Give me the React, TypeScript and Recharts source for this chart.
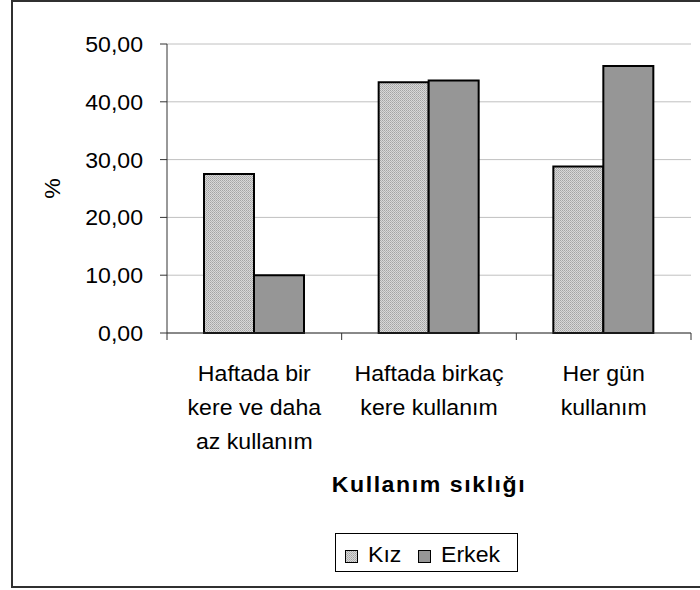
import { BarChart, Bar, XAxis, YAxis, CartesianGrid, Legend, Label } from "recharts"

const categories = [
  "Haftada bir\nkere ve daha\naz kullanım",
  "Haftada birkaç\nkere kullanım",
  "Her gün\nkullanım",
]
const kiz = [27.5, 43.4, 28.8]
const erkek = [10.0, 43.7, 46.2]
const yTicks = [0, 10, 20, 30, 40, 50]
const seriesNames = ["Kız", "Erkek"]
const xTitle = "Kullanım sıklığı"
const yTitle = "%"

const data = categories.map((name, i) => ({ name, kiz: kiz[i], erkek: erkek[i] }))

const FONT = '"Liberation Sans", Arial, sans-serif'
const SX = 1.05
const AXIS = "#333"

function StretchText({ x, y, anchor = "middle", rotate = 0, bold = false, spacing = 0, children }: any) {
  return (
    <text
      transform={`translate(${x},${y}) rotate(${rotate}) scale(${SX},1)`}
      textAnchor={anchor}
      fontFamily={FONT}
      fontSize={22}
      fontWeight={bold ? "bold" : "normal"}
      letterSpacing={spacing}
      fill="#000"
    >
      {children}
    </text>
  )
}

function ValueTick({ x, y, payload }: any) {
  return (
    <StretchText x={x} y={y + 8} anchor="end">
      {Number(payload.value).toFixed(2).replace(".", ",")}
    </StretchText>
  )
}

function CategoryTick({ x, y, payload, index, width, visibleTicksCount }: any) {
  const half = width / visibleTicksCount / 2
  const lines = String(payload.value).split("\n")
  return (
    <g>
      <line x1={x - half} x2={x - half} y1={y} y2={y + 7} stroke={AXIS} />
      {index === visibleTicksCount - 1 && (
        <line x1={x + half} x2={x + half} y1={y} y2={y + 7} stroke={AXIS} />
      )}
      {lines.map((line, i) => (
        <StretchText key={i} x={x} y={y + 48 + i * 34}>
          {line}
        </StretchText>
      ))}
    </g>
  )
}

function LegendBox({ payload }: any) {
  const offsets = [10, 83]
  const items = [...(payload || [])].sort(
    (a: any, b: any) => seriesNames.indexOf(a.value) - seriesNames.indexOf(b.value)
  )
  return (
    <svg width={183} height={39} style={{ display: "block" }}>
      <rect x={0.5} y={0.5} width={182} height={38} fill="#fff" stroke="#000" />
      {items.map((entry: any, i: number) => (
        <g key={entry.value}>
          <rect
            x={offsets[i] + 0.5}
            y={17.5}
            width={12}
            height={12}
            fill={entry.color}
            stroke="#000"
          />
          <StretchText x={offsets[i] + 23} y={29} anchor="start">
            {entry.value}
          </StretchText>
        </g>
      ))}
    </svg>
  )
}

export default function App() {
  return (
    <div style={{ position: "absolute", left: 0, top: 0, width: 700, height: 590, background: "#fff" }}>
      <div
        style={{
          position: "absolute",
          left: 11,
          top: 0,
          width: 689,
          height: 588,
          borderTop: "2px solid #303030",
          borderLeft: "2px solid #303030",
          borderBottom: "2px solid #303030",
          boxSizing: "border-box",
        }}
      />
      <BarChart
        width={700}
        height={590}
        data={data}
        margin={{ top: 44, right: 9, left: 0, bottom: 0 }}
        barGap={0}
      >
        <defs>
          <pattern id="kizFill" width="2" height="2" patternUnits="userSpaceOnUse">
            <rect width="2" height="2" fill="#d8d8d8" />
            <rect x="0" y="0" width="1" height="1" fill="#a4a4a4" />
            <rect x="1" y="1" width="1" height="1" fill="#b4b4b4" />
          </pattern>
        </defs>
        <CartesianGrid vertical={false} stroke="#c0c0c0" />
        <XAxis
          dataKey="name"
          height={257}
          interval={0}
          tickSize={0}
          tickMargin={0}
          tickLine={false}
          axisLine={{ stroke: AXIS }}
          tick={<CategoryTick />}
        >
          <Label
            content={({ viewBox }: any) => (
              <StretchText x={viewBox.x + viewBox.width / 2} y={viewBox.y + 159} bold spacing={1.5}>
                {xTitle}
              </StretchText>
            )}
          />
        </XAxis>
        <YAxis
          width={167}
          domain={[0, 50]}
          ticks={yTicks}
          tickSize={7}
          tickMargin={17}
          axisLine={{ stroke: AXIS }}
          tickLine={{ stroke: AXIS }}
          tick={<ValueTick />}
        >
          <Label
            content={({ viewBox }: any) => (
              <StretchText x={viewBox.x + 60} y={viewBox.y + viewBox.height / 2} rotate={-90}>
                {yTitle}
              </StretchText>
            )}
          />
        </YAxis>
        <YAxis
          yAxisId="frame"
          orientation="right"
          width={0}
          domain={[0, 50]}
          tick={false}
          tickLine={false}
          axisLine={{ stroke: "#c0c0c0" }}
        />
        <Bar
          dataKey="kiz"
          name={seriesNames[0]}
          fill="url(#kizFill)"
          stroke="#000"
          strokeWidth={2}
          barSize={50}
          isAnimationActive={false}
        />
        <Bar
          dataKey="erkek"
          name={seriesNames[1]}
          fill="#969696"
          stroke="#000"
          strokeWidth={2}
          barSize={50}
          isAnimationActive={false}
        />
        <Legend
          layout="horizontal"
          verticalAlign="middle"
          align="center"
          width={183}
          height={39}
          wrapperStyle={{ left: 335, top: 533, width: 183, height: 39 }}
          content={<LegendBox />}
        />
      </BarChart>
    </div>
  )
}
